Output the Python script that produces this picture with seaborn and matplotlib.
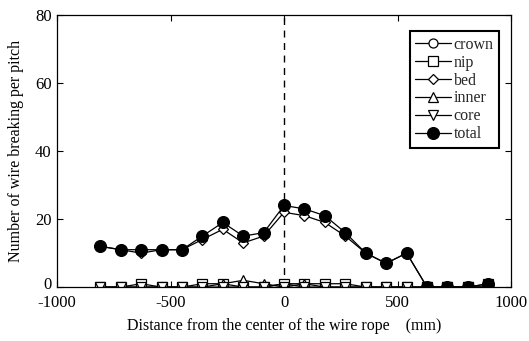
import matplotlib
matplotlib.use("Agg")
import matplotlib.pyplot as plt
import matplotlib.transforms as mtransforms
import seaborn as sns
import pandas as pd

x = [-810, -720, -630, -540, -450, -360, -270, -180, -90, 0,
     90, 180, 270, 360, 450, 540, 630, 720, 810, 900]
crown = [0, 0, 0, 0, 0, 0, 0, 0, 0, 1, 0, 0, 0, 0, 0, 0, 0, 0, 0, 0]
nip   = [0, 0, 1, 0, 0, 1, 1, 0, 0, 1, 1, 1, 1, 0, 0, 0, 0, 0, 0, 1]
bed   = [12, 11, 10, 11, 11, 14, 17, 13, 15, 22, 21, 19, 15, 10, 7, 10, 0, 0, 0, 0]
inner = [0, 0, 0, 0, 0, 0, 1, 2, 1, 0, 1, 0, 0, 0, 0, 0, 0, 0, 0, 0]
core  = [0, 0, 0, 0, 0, 0, 0, 0, 0, 0, 0, 0, 0, 0, 0, 0, 0, 0, 0, 0]
total = [12, 11, 11, 11, 11, 15, 19, 15, 16, 24, 23, 21, 16, 10, 7, 10, 0, 0, 0, 1]

series = {"crown": crown, "nip": nip, "bed": bed, "inner": inner, "core": core, "total": total}
markers = {"crown": "o", "nip": "s", "bed": "D", "inner": "^", "core": "v", "total": "o"}
sizes = {"crown": 6.5, "nip": 6.5, "bed": 5.5, "inner": 7, "core": 7, "total": 8.5}

sns.set_theme(style="ticks")
plt.rcParams['font.family'] = ['Liberation Serif', 'DejaVu Serif']
plt.rcParams['axes.unicode_minus'] = False

fig = plt.figure(figsize=(5.29, 3.41), dpi=100)
ax = fig.add_axes([0.108, 0.158, 0.858, 0.798])

for name, vals in series.items():
    df = pd.DataFrame({"x": x, "y": vals})
    sns.lineplot(data=df, x="x", y="y", ax=ax, color="black", linewidth=0.9,
                 marker=markers[name], markersize=sizes[name],
                 markerfacecolor=("black" if name == "total" else "white"),
                 markeredgecolor="black", markeredgewidth=0.9, label=name)

ax.axvline(0, color="black", linestyle=(0, (5, 4)), linewidth=1.0, zorder=0)

ax.set_xlim(-1000, 1000)
ax.set_ylim(0, 80)
ax.set_xticks([-1000, -500, 0, 500, 1000])
ax.set_yticks([0, 20, 40, 60, 80])
ax.tick_params(direction="in", top=True, right=True, labelsize=12, length=4,
               width=0.8, colors="black")
ax.tick_params(axis="x", pad=6)
ax.tick_params(axis="y", pad=4)
for s in ax.spines.values():
    s.set_color("black")
    s.set_linewidth(0.9)
ax.set_xlabel("Distance from the center of the wire rope    (mm)", fontsize=11.5, color="black", labelpad=5)
ax.set_ylabel("Number of wire breaking per pitch", fontsize=11.5, color="black", labelpad=8)

# nudge the y "0" label up slightly so it clears the "-1000" x label
fig.canvas.draw()
ylab0 = ax.get_yticklabels()[0]
ylab0.set_transform(ylab0.get_transform() + mtransforms.ScaledTranslation(0, 3 / 72, fig.dpi_scale_trans))

leg = ax.legend(loc="upper right", bbox_to_anchor=(0.992, 0.97), fontsize=11.5,
                frameon=True, fancybox=False, edgecolor="black", framealpha=1,
                handlelength=2.2, handletextpad=0.2, labelspacing=0.12,
                borderpad=0.35, shadow=False)
leg.get_frame().set_linewidth(1.5)

fig.savefig("out.png", dpi=100)
